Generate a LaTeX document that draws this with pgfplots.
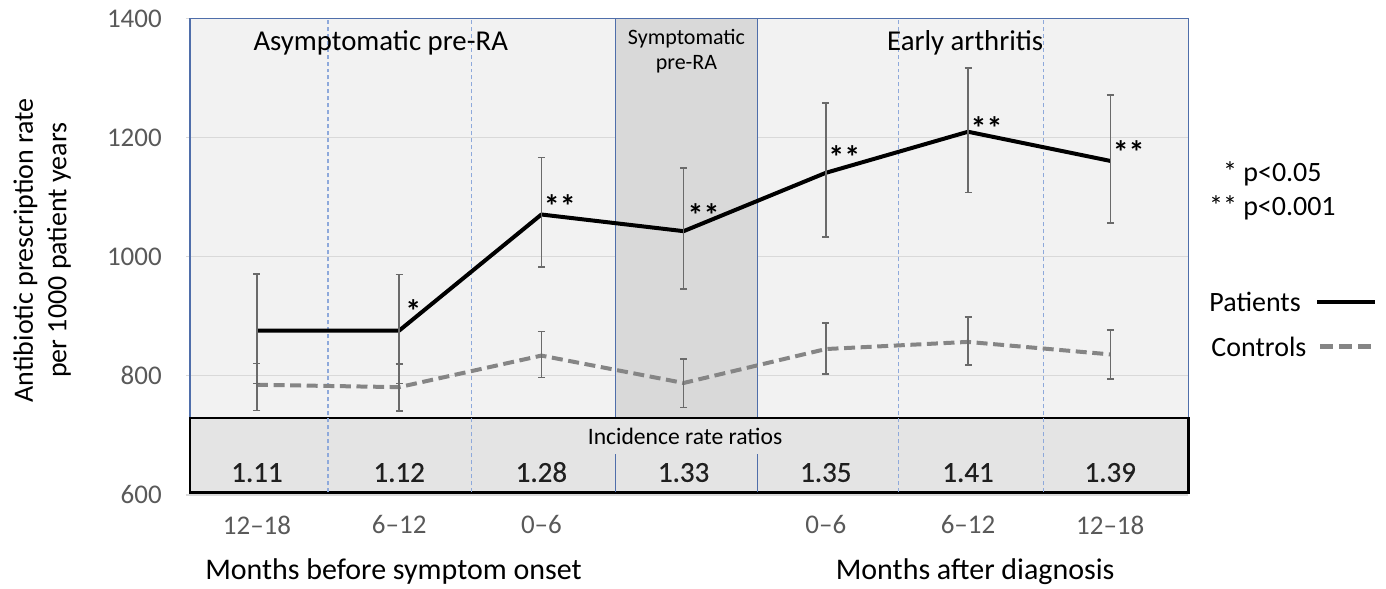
\documentclass[border=0pt]{standalone}
\usepackage{pgfplots}
\pgfplotsset{compat=1.18}
\usepackage{fontspec}
\setmainfont{Carlito}
\newfontfamily\semibold[FakeBold=0.5]{Carlito}

\definecolor{bgc}{HTML}{F2F2F2}
\definecolor{bandc}{HTML}{D9D9D9}
\definecolor{tablec}{HTML}{E4E4E4}
\definecolor{gridc}{HTML}{D9D9D9}
\definecolor{framec}{HTML}{4F6EAA}
\definecolor{sepc}{HTML}{8EA9DB}
\definecolor{errc}{HTML}{6A6A6A}
\definecolor{ctrlc}{HTML}{858585}
\definecolor{tickc}{HTML}{595959}

\newcommand{\fsz}[1]{\fontsize{#1}{1.2\dimexpr#1\relax}\selectfont}
\tikzset{
  sig/.style={anchor=base, inner sep=0pt, font=\fsz{16pt}\bfseries},
  irr/.style={anchor=base, inner sep=0pt, font=\fsz{14.5pt}\semibold, text=black!88},
}

\begin{document}
\begin{tikzpicture}
\begin{axis}[scale only axis, width=499.5pt, height=238.3pt,
  xmin=-0.47, xmax=6.55, ymin=600, ymax=1400, clip=false,
  axis line style={draw=none}, tick style={draw=none},
  ytick={600,800,...,1400}, xtick={0,1,2,4,5,6},
  xticklabels={12--18,6--12,0--6,0--6,6--12,12--18},
  ticklabel style={font=\fsz{13.5pt}, color=tickc},
  /pgf/number format/assume math mode=true,
  /pgf/number format/1000 sep={},
  yticklabel style={anchor=east, inner sep=0pt, xshift=-14pt},
  xticklabel style={anchor=center, inner sep=0pt, yshift=-15pt},
]
% size of the whole picture
\path (axis cs:-1.807,442.4) rectangle (axis cs:7.939,1431.3);

% backgrounds
\fill[bgc] (axis cs:-0.47,729.5) rectangle (axis cs:6.55,1400);
\fill[bandc] (axis cs:2.52,729.5) rectangle (axis cs:3.52,1400);
\pgfplotsinvokeforeach{600,800,1000,1200,1400}{
  \draw[gridc, line width=0.6pt] (axis cs:-0.50,#1) -- (axis cs:6.55,#1);
}

% table of incidence rate ratios
\draw[black, line width=1.3pt, fill=tablec] (axis cs:-0.47,603.6) rectangle (axis cs:6.55,729.5);

% separators
\pgfplotsinvokeforeach{0.5,1.51,4.51,5.53}{
  \draw[sepc, line width=0.6pt, dash pattern=on 2pt off 1.5pt] (axis cs:#1,604.5) -- (axis cs:#1,1400);
}
\pgfplotsinvokeforeach{2.52,3.52}{
  \draw[framec, line width=0.7pt] (axis cs:#1,731) -- (axis cs:#1,1400);
  \draw[framec, line width=0.7pt] (axis cs:#1,605) -- (axis cs:#1,668);
}
\draw[framec, line width=0.7pt] (axis cs:-0.47,731) -- (axis cs:-0.47,1400) -- (axis cs:6.55,1400) -- (axis cs:6.55,731);

% controls
\addplot[ctrlc, line width=2pt, mark=none, dash pattern=on 5.5pt off 2.8pt,
  error bars/.cd, y dir=both, y explicit,
  error bar style={solid, line width=0.7pt, errc},
  error mark options={solid, rotate=90, mark size=1.75pt, line width=0.7pt, errc}]
coordinates {
 (0,785) += (0,36) -= (0,43)
 (1,781) += (0,39) -= (0,40)
 (2,834) += (0,40) -= (0,37)
 (3,788) += (0,40) -= (0,41)
 (4,845) += (0,44) -= (0,42)
 (5,857) += (0,42) -= (0,39)
 (6,836) += (0,41) -= (0,41)
};

% patients
\addplot[black, line width=2pt, mark=none, line join=round,
  error bars/.cd, y dir=both, y explicit,
  error bar style={line width=0.7pt, errc},
  error mark options={rotate=90, mark size=1.75pt, line width=0.7pt, errc}]
coordinates {
 (0,876) += (0,95) -= (0,89)
 (1,876) += (0,94) -= (0,89)
 (2,1071) += (0,96) -= (0,88)
 (3,1043) += (0,106) -= (0,97)
 (4,1141) += (0,117) -= (0,108)
 (5,1210) += (0,107) -= (0,102)
 (6,1161) += (0,111) -= (0,104)
};

% significance marks
\node[sig] at (axis cs:1.10,890) {*};
\node[sig] at (axis cs:2.13,1066) {**};
\node[sig] at (axis cs:3.14,1051) {**};
\node[sig] at (axis cs:4.13,1148) {**};
\node[sig] at (axis cs:5.13,1197) {**};
\node[sig] at (axis cs:6.13,1156) {**};

% period titles
\node[anchor=base, inner sep=0pt, font=\fsz{14.4pt}] at (axis cs:0.87,1347) {Asymptomatic pre-RA};
\node[anchor=base, inner sep=0pt, font=\fsz{14.4pt}] at (axis cs:4.98,1347) {Early arthritis};
\node[anchor=base, inner sep=0pt, font=\fsz{11pt}] at (axis cs:3.02,1357) {Symptomatic};
\node[anchor=base, inner sep=0pt, font=\fsz{11pt}] at (axis cs:3.02,1315) {pre-RA};

% table text
\node[anchor=base, inner sep=0pt, font=\fsz{11.8pt}] at (axis cs:3.01,684) {Incidence rate ratios};
\node[irr] at (axis cs:0,622) {1.11};
\node[irr] at (axis cs:1,622) {1.12};
\node[irr] at (axis cs:2,622) {1.28};
\node[irr] at (axis cs:3,622) {1.33};
\node[irr] at (axis cs:4,622) {1.35};
\node[irr] at (axis cs:5,622) {1.41};
\node[irr] at (axis cs:6,622) {1.39};

% axis titles
\node[rotate=90, align=center, inner sep=0pt, font=\fsz{14pt}] at (axis cs:-1.51,1011)
  {Antibiotic prescription rate\\per 1000 patient years};
\node[inner sep=0pt, font=\fsz{15pt}] at (axis cs:0.96,471) {Months before symptom onset};
\node[inner sep=0pt, font=\fsz{15pt}] at (axis cs:5.05,471) {Months after diagnosis};

% key on the right
\node[align=center, inner sep=0pt, font=\fsz{14pt}] at (axis cs:7.14,1111)
  {* p<0.05\\** p<0.001};
\node[anchor=west, inner sep=0pt, font=\fsz{14pt}] at (axis cs:6.695,924) {Patients};
\draw[black, line width=2pt] (axis cs:7.454,924) -- (axis cs:7.862,924);
\node[anchor=west, inner sep=0pt, font=\fsz{14pt}] at (axis cs:6.709,849) {Controls};
\draw[ctrlc, line width=2.2pt, dash pattern=on 6.5pt off 3pt] (axis cs:7.475,849) -- (axis cs:7.862,849);
\end{axis}
\end{tikzpicture}
\end{document}
